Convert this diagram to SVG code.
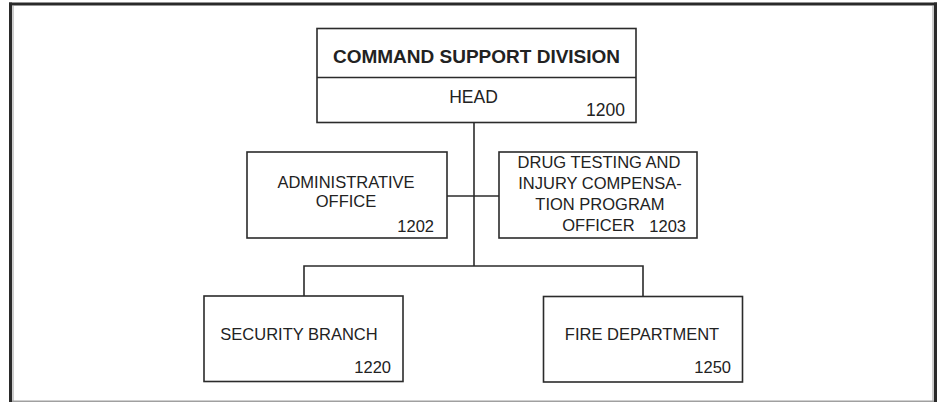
<svg xmlns="http://www.w3.org/2000/svg" width="937" height="402" viewBox="0 0 937 402">
<style>
.box{fill:#fff;stroke:#2b2b2b;stroke-width:1.6}
.ln{fill:none;stroke:#2b2b2b;stroke-width:1.6}
.t{font-family:"Liberation Sans",Arial,sans-serif;font-size:16.5px;fill:#222}
.h{font-size:17.5px}
.b{font-family:"Liberation Sans",Arial,sans-serif;font-size:19px;font-weight:bold;fill:#222}
.c{text-anchor:middle}
.e{text-anchor:end}
</style>
<rect width="937" height="402" fill="#fff"/>
<g id="frame">
<rect x="9" y="2.5" width="928" height="3" fill="#2a2a2a"/>
<rect x="9" y="2.5" width="3" height="400" fill="#2a2a2a"/>
<rect x="934" y="2.5" width="3" height="400" fill="#2a2a2a"/>
<line x1="13" y1="6" x2="13" y2="402" stroke="#9a9a9a" stroke-width="1"/>
<line x1="933" y1="6" x2="933" y2="402" stroke="#9a9a9a" stroke-width="1"/>
<line x1="12" y1="401.2" x2="934" y2="401.2" stroke="#a0a0a0" stroke-width="1.5"/>
</g>
<g id="connectors">
<line class="ln" x1="474" y1="122" x2="474" y2="266"/>
<line class="ln" x1="447" y1="196" x2="499" y2="196"/>
<polyline class="ln" points="304,296 304,266 643,266 643,296"/>
</g>
<g id="command-support-division">
<rect class="box" x="317" y="28.5" width="319" height="94"/>
<line class="ln" x1="317" y1="77.5" x2="636" y2="77.5"/>
<text class="b c" x="476.5" y="63">COMMAND SUPPORT DIVISION</text>
<text class="t h c" x="473.5" y="103">HEAD</text>
<text class="t h e" x="625" y="116">1200</text>
</g>
<g id="administrative-office">
<rect class="box" x="247" y="152" width="200" height="86"/>
<text class="t c" x="346" y="188">ADMINISTRATIVE</text>
<text class="t c" x="346" y="207">OFFICE</text>
<text class="t e" x="434" y="232">1202</text>
</g>
<g id="drug-testing">
<rect class="box" x="499" y="152" width="198" height="86"/>
<text class="t c" x="599" y="168">DRUG TESTING AND</text>
<text class="t c" x="600" y="189">INJURY COMPENSA-</text>
<text class="t c" x="600" y="210">TION PROGRAM</text>
<text class="t c" x="598.5" y="231">OFFICER</text>
<text class="t e" x="686" y="232">1203</text>
</g>
<g id="security-branch">
<rect class="box" x="204" y="296" width="199" height="85.5"/>
<text class="t c" x="299" y="340">SECURITY BRANCH</text>
<text class="t e" x="391" y="373">1220</text>
</g>
<g id="fire-department">
<rect class="box" x="543.5" y="296.5" width="199" height="85.5"/>
<text class="t c" x="642" y="340">FIRE DEPARTMENT</text>
<text class="t e" x="731" y="373">1250</text>
</g>
</svg>
